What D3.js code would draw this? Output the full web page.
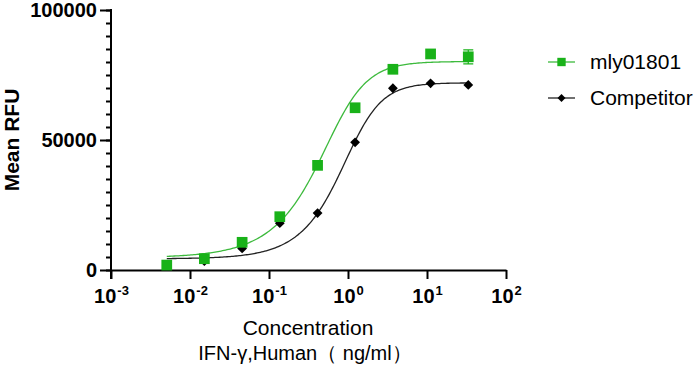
<!DOCTYPE html>
<html>
<head>
<meta charset="utf-8">
<script src="https://cdn.jsdelivr.net/npm/d3@7"></script>
<style>
  body { margin: 0; background: #fff; }
  svg { font-family: Arial, "Liberation Sans", sans-serif; }
</style>
</head>
<body>
<div id="chart"></div>
<script>
// Concentration (ng/ml), 3-fold dilution series
var concentrations = [0.00508, 0.0152, 0.0457, 0.137, 0.412, 1.23, 3.70, 11.1, 33.3];
var mlyValues = [1900, 4350, 10650, 20500, 40250, 62400, 77200, 83100, 82000];
var mlyErrors = [0, 0, 0, 0, 0, 0, 0, 0, 2700];
var competitorValues = [1800, 3400, 8300, 18000, 21900, 49100, 69900, 71800, 71200];
var seriesNames = ["mly01801", "Competitor"];
// asymmetric sigmoid fit parameters, one per series
var fitBottom = [4700, 4300];
var fitTop = [80200, 72000];
var fitLogEC50 = [-0.13, 0.08];
var fitHill = [1.8, 2.0];
var fitAsym = [0.55, 0.6];
var yTicks = [0, 50000, 100000];
var xTicks = [1e-3, 1e-2, 1e-1, 1e0, 1e1, 1e2];

var width = 700, height = 366;
var green = "#19b219", greenLine = "#3dba3d", black = "#000";

var svg = d3.select("#chart").append("svg")
    .attr("width", width)
    .attr("height", height);

var x = d3.scaleLog().domain([1e-3, 1e2]).range([111, 506]);
var y = d3.scaleLinear().domain([0, 100000]).range([270, 10]);

// fitted curves
function fitCurve(i, c) {
    var u = Math.pow(10, (fitLogEC50[i] - Math.log10(c)) * fitHill[i]);
    return fitBottom[i] + (fitTop[i] - fitBottom[i]) / Math.pow(1 + u, fitAsym[i]);
}
var line = d3.line().x(function (d) { return x(d[0]); }).y(function (d) { return y(d[1]); });
var lx = d3.scaleLinear().domain([0, 200])
    .range([Math.log10(concentrations[0]), Math.log10(concentrations[concentrations.length - 1])]);
[0, 1].forEach(function (i) {
    var pts = d3.range(201).map(function (k) {
        var c = Math.pow(10, lx(k));
        return [c, fitCurve(i, c)];
    });
    svg.append("path")
        .attr("d", line(pts))
        .attr("fill", "none")
        .attr("stroke", i == 0 ? greenLine : "#222")
        .attr("stroke-width", 1.3);
});

// axes
var yAxis = svg.append("g").attr("transform", "translate(111,0)");
yAxis.call(d3.axisLeft(y).tickValues(d3.range(0, 100001, 5000)).tickSize(5).tickFormat(""));
yAxis.call(function (g) { g.select(".domain").remove(); });
yAxis.selectAll(".tick line").attr("stroke-width", 2);
var yMajor = svg.append("g").attr("transform", "translate(111,0)")
    .call(d3.axisLeft(y).tickValues(yTicks).tickSize(11).tickPadding(3).tickFormat(d3.format("d")));
yMajor.select(".domain").remove();
yMajor.selectAll(".tick line").attr("stroke-width", 2);
yMajor.selectAll("text").attr("font-size", 20).attr("font-weight", "bold").attr("fill", "#000")
    .attr("font-family", "Arial, 'Liberation Sans', sans-serif");

var xAxis = svg.append("g").attr("transform", "translate(0,270)")
    .call(d3.axisBottom(x).tickValues(xTicks).tickSize(9).tickSizeOuter(0).tickFormat(""));
xAxis.select(".domain").attr("stroke-width", 2);
xAxis.selectAll(".tick line").attr("stroke-width", 2);
xAxis.selectAll(".tick").append("text")
    .attr("y", 33)
    .attr("text-anchor", "middle")
    .attr("fill", "#000")
    .attr("font-weight", "bold")
    .each(function (d) {
        var t = d3.select(this);
        t.append("tspan").attr("font-size", 20).text("10");
        t.append("tspan").attr("font-size", 13).attr("dy", -8).attr("dx", 1).text(Math.round(Math.log10(d)));
    });

// y axis line (extends to bottom of the x tick at 10^-3)
svg.append("line")
    .attr("x1", 111).attr("x2", 111)
    .attr("y1", y(100000) - 1).attr("y2", 279)
    .attr("stroke", "#000").attr("stroke-width", 2);

// error bars
svg.selectAll(".err")
    .data(concentrations.filter(function (c, i) { return mlyErrors[i] > 0; }))
    .enter().append("path")
    .attr("d", function (c) {
        var i = concentrations.indexOf(c), cx = x(c);
        var y1 = y(mlyValues[i] - mlyErrors[i]), y2 = y(mlyValues[i] + mlyErrors[i]);
        return "M" + (cx - 5) + "," + y1 + "H" + (cx + 5) + "M" + cx + "," + y1 + "V" + y2 + "M" + (cx - 5) + "," + y2 + "H" + (cx + 5);
    })
    .attr("stroke", green).attr("stroke-width", 1.2).attr("fill", "none");

// markers
var diamond = d3.symbol().type(d3.symbolSquare).size(48);
var square = d3.symbol().type(d3.symbolSquare).size(115);
svg.selectAll(".comp")
    .data(concentrations)
    .enter().append("path")
    .attr("transform", function (d, i) { return "translate(" + x(d) + "," + y(competitorValues[i]) + ")rotate(45)"; })
    .attr("d", diamond)
    .attr("fill", black);
svg.selectAll(".mly")
    .data(concentrations)
    .enter().append("path")
    .attr("transform", function (d, i) { return "translate(" + x(d) + "," + y(mlyValues[i]) + ")"; })
    .attr("d", square)
    .attr("fill", green);

// axis titles
svg.append("text")
    .attr("transform", "translate(19,140)rotate(-90)")
    .attr("text-anchor", "middle")
    .attr("font-size", 21).attr("font-weight", "bold")
    .text("Mean RFU");
svg.append("text")
    .attr("x", 308).attr("y", 335)
    .attr("text-anchor", "middle").attr("font-size", 21)
    .text("Concentration");
svg.append("text")
    .attr("x", 305).attr("y", 360)
    .attr("text-anchor", "middle").attr("font-size", 20)
    .text("IFN-γ,Human（ ng/ml）");

// legend
var legend = svg.selectAll(".legend")
    .data(seriesNames)
    .enter().append("g")
    .attr("transform", function (d, i) { return "translate(548," + (62 + i * 36) + ")"; });
legend.append("line")
    .attr("x1", 0).attr("x2", 27)
    .attr("stroke", function (d, i) { return i == 0 ? greenLine : "#222"; })
    .attr("stroke-width", 1.3);
legend.append("path")
    .attr("transform", function (d, i) { return i == 0 ? "translate(13.5,0)" : "translate(13.5,0)rotate(45)"; })
    .attr("d", function (d, i) { return d3.symbol().type(d3.symbolSquare).size(i == 0 ? 70 : 32)(); })
    .attr("fill", function (d, i) { return i == 0 ? green : black; });
legend.append("text")
    .attr("x", 42).attr("y", 7)
    .attr("font-size", 21)
    .text(function (d) { return d; });
</script>
</body>
</html>
